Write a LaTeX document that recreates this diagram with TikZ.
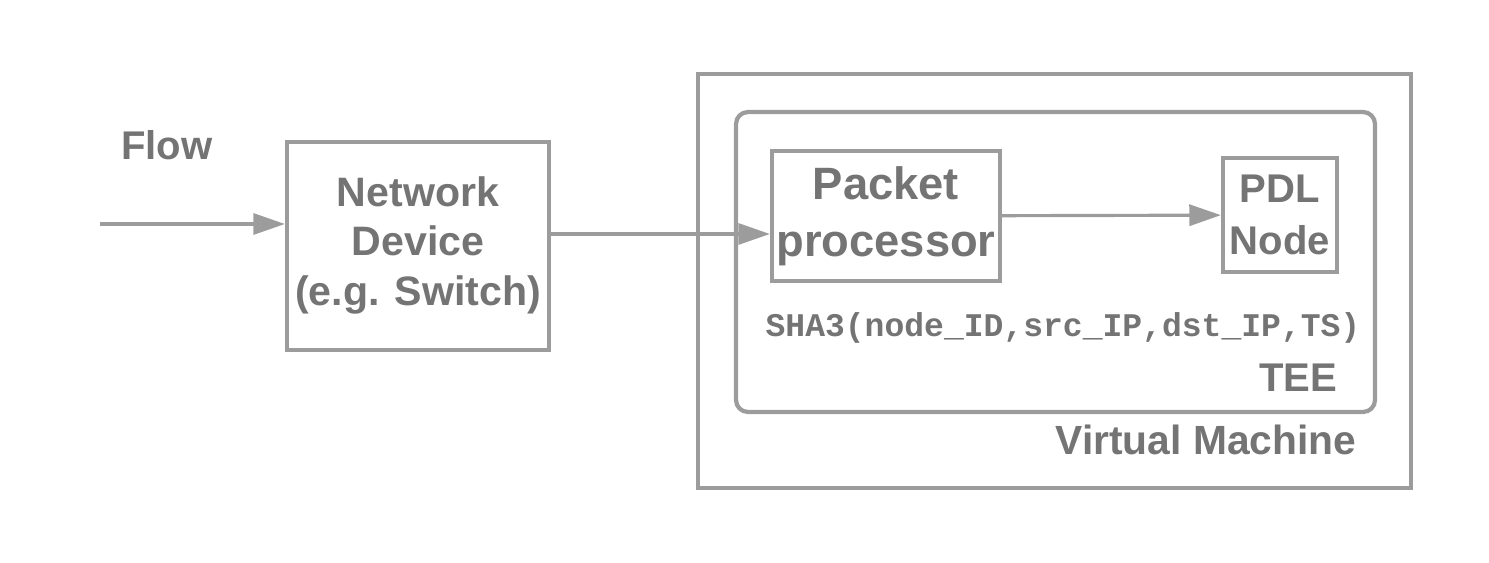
\documentclass[tikz,border=0pt]{standalone}
\usepackage{fontspec}
\setmainfont{Liberation Sans}
\setmonofont{Liberation Mono}
\usetikzlibrary{arrows.meta}
\definecolor{linegray}{HTML}{9C9C9C}
\definecolor{textgray}{HTML}{747474}
\begin{document}
\begin{tikzpicture}
[
    box/.style={draw=linegray, line width=1.2pt, text=textgray, align=center, inner sep=0pt},
    lbl/.style={text=textgray, inner sep=0pt},
    arr/.style={draw=linegray, line width=0.9pt, -{Triangle[length=9pt,width=6pt]}}
]
    \useasboundingbox (0,0) rectangle (14.89,-5.63);
    \node [lbl, font=\fontsize{11.4pt}{14pt}\bfseries\selectfont] (flow) at (1.67,-1.45) {Flow};
    \node [box, minimum width=2.62cm, minimum height=2.08cm, font=\fontsize{11.7pt}{14.2pt}\bfseries\selectfont] (netdev) at (4.18,-2.46)
        {\raisebox{0.12cm}{\begin{tabular}{@{}c@{}}Network\\Device\\(e.g. Switch)\end{tabular}}};
    \node [box, minimum width=7.13cm, minimum height=4.14cm] (vm) at (10.545,-2.81) {};
    \node [box, rounded corners=0.12cm, minimum width=6.39cm, minimum height=3.0cm] (tee) at (10.555,-2.62) {};
    \node [box, minimum width=2.28cm, minimum height=1.30cm, font=\fontsize{12.9pt}{16.2pt}\bfseries\selectfont] (pktproc) at (8.86,-2.16) {Packet\\processor};
    \node [box, minimum width=1.14cm, minimum height=1.14cm, font=\fontsize{11.4pt}{14.8pt}\bfseries\selectfont] (pdl) at (12.80,-2.15) {PDL\\Node};
    \node [lbl, font=\fontsize{9.4pt}{11pt}\ttfamily\bfseries\selectfont] (hash) at (10.63,-3.28) {SHA3(node\_ID,src\_IP,dst\_IP,TS)};
    \node [lbl, font=\fontsize{11.4pt}{14pt}\bfseries\selectfont] (teelbl) at (12.98,-3.78) {TEE};
    \node [lbl, font=\fontsize{11.6pt}{14pt}\bfseries\selectfont] (vmlbl) at (12.06,-4.40) {Virtual Machine};
    \coordinate (flowin) at (1.00,-2.24);
    \coordinate (link) at (5.49,-2.34);
    \draw [arr] (flowin) -- (flowin -| netdev.west);
    \draw [arr] (link) -- (link -| pktproc.west);
    \draw [arr] (pktproc) -- (pdl);
\end{tikzpicture}
\end{document}
